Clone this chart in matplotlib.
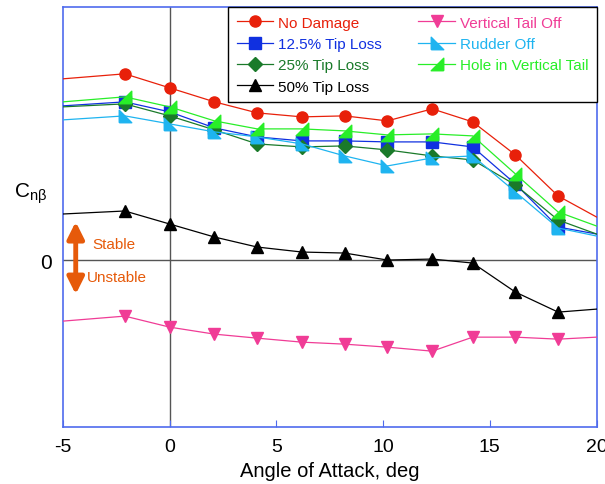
import matplotlib.pyplot as plt
from matplotlib.path import Path

plt.rcParams['font.family'] = ['Liberation Sans', 'DejaVu Sans']
plt.rcParams['axes.unicode_minus'] = False

# angle of attack (deg); first/last are the line ends at the frame, no marker
alpha = [-5, -2.1, 0, 2.1, 4.1, 6.2, 8.2, 10.2, 12.3, 14.2, 16.2, 18.2, 20]

no_damage   = [1.81, 1.86, 1.72, 1.58, 1.47, 1.43, 1.44, 1.39, 1.51, 1.38, 1.05, 0.64, 0.43]
tip_12      = [1.54, 1.58, 1.48, 1.32, 1.23, 1.19, 1.19, 1.18, 1.18, 1.13, 0.76, 0.33, 0.26]
tip_25      = [1.53, 1.56, 1.44, 1.30, 1.16, 1.13, 1.14, 1.10, 1.04, 1.00, 0.75, 0.40, 0.26]
tip_50      = [0.46, 0.49, 0.36, 0.23, 0.13, 0.08, 0.07, 0.00, 0.01, -0.03, -0.32, -0.52, -0.49]
vt_off      = [-0.61, -0.56, -0.67, -0.74, -0.78, -0.82, -0.84, -0.87, -0.91, -0.77, -0.77, -0.79, -0.77]
rudder_off  = [1.40, 1.44, 1.36, 1.28, 1.23, 1.16, 1.04, 0.94, 1.02, 1.04, 0.68, 0.32, 0.24]
hole_vt     = [1.58, 1.63, 1.53, 1.39, 1.31, 1.31, 1.29, 1.25, 1.26, 1.24, 0.86, 0.48, 0.34]

# half-triangle markers
tri_left = Path([(-1, -1), (-1, 1), (1, -1), (-1, -1)])   # rudder off
tri_right = Path([(1, -1), (1, 1), (-1, -1), (1, -1)])    # hole in VT

series = [
    ('No Damage', no_damage, '#E8200A', 'o', 8),
    ('12.5% Tip Loss', tip_12, '#1030E0', 's', 8),
    ('25% Tip Loss', tip_25, '#1A7A2A', 'D', 7),
    ('50% Tip Loss', tip_50, 'black', '^', 9),
    ('Vertical Tail Off', vt_off, '#F03C96', 'v', 9),
    ('Rudder Off', rudder_off, '#1EB4F0', tri_left, 9),
    ('Hole in Vertical Tail', hole_vt, '#28EE28', tri_right, 9),
]

fig = plt.figure(figsize=(6.05, 4.85), dpi=100)
ax = fig.add_axes([0.104, 0.117, 0.882, 0.866])

ax.axhline(0, color='#555555', lw=1, zorder=1)
ax.axvline(0, color='#555555', lw=1, zorder=1)

for name, vals, col, mk, ms in series:
    ax.plot(alpha, vals, color=col, lw=0.9, marker=mk, markersize=ms,
            markevery=list(range(1, len(alpha) - 1)), label=name, zorder=3)

ax.set_xlim(-5, 20)
ax.set_ylim(-1.67, 2.525)
ax.set_xticks([-5, 0, 5, 10, 15, 20])
ax.set_yticks([0])
ax.tick_params(axis='x', direction='in', color='#4F6BED', length=5, labelsize=14, pad=8)
ax.tick_params(axis='y', length=0, labelsize=15, pad=8)
for sp in ax.spines.values():
    sp.set_color('#4F6BED')
    sp.set_linewidth(1.2)

ax.set_xlabel('Angle of Attack, deg', fontsize=14.5, labelpad=4)
ax.set_ylabel(r'C$_{\mathregular{nβ}}$', fontsize=15, rotation=0, labelpad=0)
ax.yaxis.set_label_coords(-0.06, 0.53)

# stable / unstable arrow
orange = '#E65A0A'
ax.annotate('', xy=(-4.4, 0.41), xytext=(-4.4, -0.37),
            arrowprops=dict(arrowstyle='<|-|>,head_width=0.5,head_length=1.0',
                            color=orange, lw=3.5))
ax.text(-3.6, 0.16, 'Stable', color=orange, fontsize=11, va='center')
ax.text(-3.9, -0.17, 'Unstable', color=orange, fontsize=11, va='center')

leg = ax.legend(ncol=2, loc='upper right', fontsize=11, labelcolor='linecolor',
                fancybox=False, edgecolor='black', framealpha=1, borderaxespad=0,
                handlelength=2.4, handletextpad=0.3, columnspacing=2.4,
                labelspacing=0.48, borderpad=0.55)
leg.get_frame().set_linewidth(1)
leg.set_zorder(5)

fig.savefig('out.png', dpi=100)
